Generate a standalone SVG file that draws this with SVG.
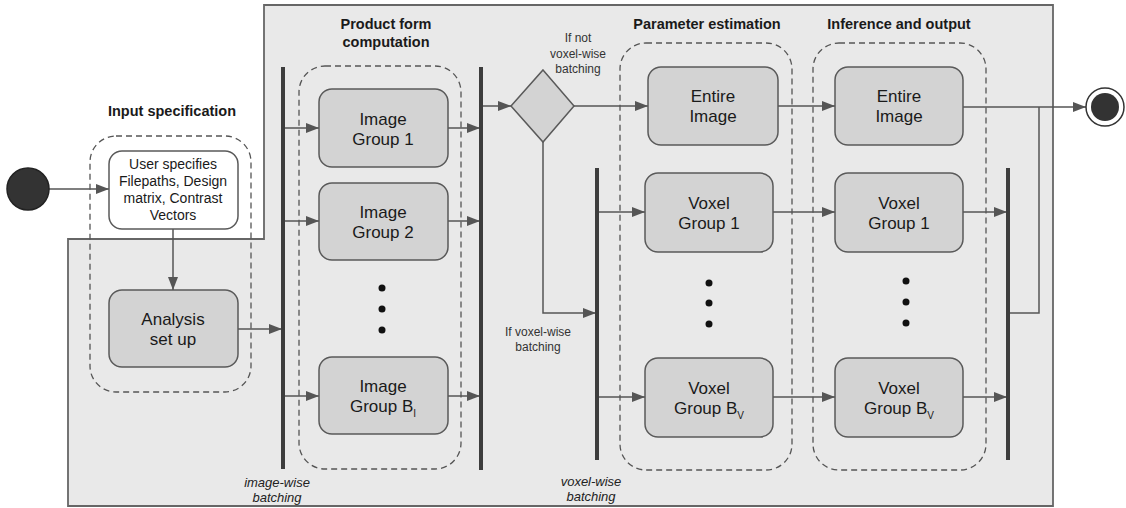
<svg xmlns="http://www.w3.org/2000/svg" width="1126" height="508" viewBox="0 0 1126 508">
<style>
text{font-family:"Liberation Sans",Arial,sans-serif;fill:#1a1a1a}
.t{font-size:14.5px;font-weight:bold;text-anchor:middle}
.b{font-size:17px;text-anchor:middle}
.u{font-size:14px;text-anchor:middle}
.s{font-size:12px;text-anchor:middle;fill:#333}
.i{font-size:13px;font-style:italic;text-anchor:middle;fill:#222}
.box{fill:#d3d3d3;stroke:#5a5a5a;stroke-width:1.5}
.dash{fill:none;stroke:#555;stroke-width:1.3;stroke-dasharray:6 4}
.bar{stroke:#3d3d3d;stroke-width:4}
.c{fill:none;stroke:#555;stroke-width:1.5}
.dot{fill:#111}
</style>
<defs>
<marker id="ah" markerUnits="userSpaceOnUse" markerWidth="14" markerHeight="12" refX="13" refY="5" orient="auto">
<path d="M0,0 L13,5 L0,10 Z" fill="#555"/>
</marker>
</defs>
<polygon id="panel" points="264,5 1053,5 1053,506 68,506 68,239 264,239" fill="#e9e9e9" stroke="#666" stroke-width="1.8"/>

<g id="containers">
<rect class="dash" x="90" y="136" width="161" height="256" rx="26"/>
<rect class="dash" x="299" y="66" width="162" height="403" rx="26"/>
<rect class="dash" x="620" y="43" width="172" height="427" rx="26"/>
<rect class="dash" x="813" y="43" width="173" height="427" rx="26"/>
</g>

<g id="titles">
<text class="t" x="172" y="116">Input specification</text>
<text class="t" x="386" y="29">Product form</text>
<text class="t" x="386" y="47">computation</text>
<text class="t" x="707" y="29">Parameter estimation</text>
<text class="t" x="899" y="29">Inference and output</text>
</g>

<g id="connectors">
<line class="c" x1="49" y1="189" x2="109" y2="189" marker-end="url(#ah)"/>
<line class="c" x1="173" y1="229" x2="173" y2="290" marker-end="url(#ah)"/>
<line class="c" x1="238" y1="329" x2="282" y2="329" marker-end="url(#ah)"/>
<line class="c" x1="283" y1="128" x2="319" y2="128" marker-end="url(#ah)"/>
<line class="c" x1="283" y1="221" x2="319" y2="221" marker-end="url(#ah)"/>
<line class="c" x1="283" y1="396" x2="319" y2="396" marker-end="url(#ah)"/>
<line class="c" x1="448" y1="128" x2="480" y2="128" marker-end="url(#ah)"/>
<line class="c" x1="448" y1="221" x2="480" y2="221" marker-end="url(#ah)"/>
<line class="c" x1="448" y1="396" x2="480" y2="396" marker-end="url(#ah)"/>
<line class="c" x1="481" y1="106" x2="511" y2="106" marker-end="url(#ah)"/>
<line class="c" x1="574" y1="106" x2="648" y2="106" marker-end="url(#ah)"/>
<polyline class="c" points="543,142 543,313 596,313" marker-end="url(#ah)"/>
<line class="c" x1="597" y1="212" x2="645" y2="212" marker-end="url(#ah)"/>
<line class="c" x1="597" y1="397" x2="645" y2="397" marker-end="url(#ah)"/>
<line class="c" x1="778" y1="106" x2="835" y2="106" marker-end="url(#ah)"/>
<line class="c" x1="773" y1="212" x2="835" y2="212" marker-end="url(#ah)"/>
<line class="c" x1="773" y1="397" x2="835" y2="397" marker-end="url(#ah)"/>
<line class="c" x1="963" y1="107" x2="1086" y2="107" marker-end="url(#ah)"/>
<line class="c" x1="963" y1="212" x2="1007" y2="212" marker-end="url(#ah)"/>
<line class="c" x1="963" y1="397" x2="1007" y2="397" marker-end="url(#ah)"/>
<polyline class="c" points="1008,313 1039,313 1039,107"/>
</g>

<g id="bars">
<line class="bar" x1="283" y1="67" x2="283" y2="469"/>
<line class="bar" x1="481" y1="67" x2="481" y2="470"/>
<line class="bar" x1="597" y1="168" x2="597" y2="460"/>
<line class="bar" x1="1008" y1="168" x2="1008" y2="460"/>
</g>

<g id="start"><circle cx="28" cy="189" r="21" fill="#333" stroke="#222" stroke-width="1.5"/></g>

<g id="user-specifies">
<rect x="109" y="151" width="129" height="78" rx="13" fill="#fff" stroke="#5a5a5a" stroke-width="1.5"/>
<text class="u" x="173" y="169">User specifies</text>
<text class="u" x="173" y="186">Filepaths, Design</text>
<text class="u" x="173" y="203">matrix, Contrast</text>
<text class="u" x="173" y="220">Vectors</text>
</g>

<g id="analysis">
<rect class="box" x="109" y="290" width="129" height="77" rx="13"/>
<text class="b" x="173" y="325">Analysis</text>
<text class="b" x="173" y="345">set up</text>
</g>

<g id="image-group-1">
<rect class="box" x="319" y="89" width="129" height="78" rx="13"/>
<text class="b" x="383" y="125">Image</text>
<text class="b" x="383" y="145">Group 1</text>
</g>
<g id="image-group-2">
<rect class="box" x="319" y="183" width="129" height="77" rx="13"/>
<text class="b" x="383" y="218">Image</text>
<text class="b" x="383" y="238">Group 2</text>
</g>
<g id="image-dots">
<circle class="dot" cx="382" cy="288" r="3.5"/>
<circle class="dot" cx="382" cy="309" r="3.5"/>
<circle class="dot" cx="382" cy="330" r="3.5"/>
</g>
<g id="image-group-b">
<rect class="box" x="319" y="357" width="129" height="77" rx="13"/>
<text class="b" x="383" y="392">Image</text>
<text class="b" x="383" y="412">Group B<tspan font-size="10" dy="5">I</tspan></text>
</g>

<g id="decision">
<polygon points="543,70 574,106 543,142 511,106" fill="#d3d3d3" stroke="#5a5a5a" stroke-width="1.5"/>
</g>
<g id="labels">
<text class="s" x="578" y="42">If not</text>
<text class="s" x="578" y="58">voxel-wise</text>
<text class="s" x="578" y="73">batching</text>
<text class="s" x="538" y="336">If voxel-wise</text>
<text class="s" x="538" y="351">batching</text>
<text class="i" x="277" y="487">image-wise</text>
<text class="i" x="277" y="502">batching</text>
<text class="i" x="591" y="486">voxel-wise</text>
<text class="i" x="591" y="501">batching</text>
</g>

<g id="pe-entire">
<rect class="box" x="648" y="67" width="130" height="78" rx="13"/>
<text class="b" x="713" y="102">Entire</text>
<text class="b" x="713" y="122">Image</text>
</g>
<g id="pe-voxel-1">
<rect class="box" x="645" y="173" width="128" height="79" rx="13"/>
<text class="b" x="709" y="209">Voxel</text>
<text class="b" x="709" y="229">Group 1</text>
</g>
<g id="pe-dots">
<circle class="dot" cx="709" cy="283" r="3.5"/>
<circle class="dot" cx="709" cy="303" r="3.5"/>
<circle class="dot" cx="709" cy="324" r="3.5"/>
</g>
<g id="pe-voxel-b">
<rect class="box" x="645" y="358" width="128" height="79" rx="13"/>
<text class="b" x="709" y="394">Voxel</text>
<text class="b" x="709" y="414">Group B<tspan font-size="10" dy="5">V</tspan></text>
</g>

<g id="io-entire">
<rect class="box" x="835" y="67" width="128" height="78" rx="13"/>
<text class="b" x="899" y="102">Entire</text>
<text class="b" x="899" y="122">Image</text>
</g>
<g id="io-voxel-1">
<rect class="box" x="835" y="173" width="128" height="79" rx="13"/>
<text class="b" x="899" y="209">Voxel</text>
<text class="b" x="899" y="229">Group 1</text>
</g>
<g id="io-dots">
<circle class="dot" cx="906" cy="281" r="3.5"/>
<circle class="dot" cx="906" cy="302" r="3.5"/>
<circle class="dot" cx="906" cy="323" r="3.5"/>
</g>
<g id="io-voxel-b">
<rect class="box" x="835" y="358" width="128" height="79" rx="13"/>
<text class="b" x="899" y="394">Voxel</text>
<text class="b" x="899" y="414">Group B<tspan font-size="10" dy="5">V</tspan></text>
</g>

<g id="end">
<circle cx="1105" cy="107" r="19" fill="#fff" stroke="#333" stroke-width="1.5"/>
<circle cx="1105" cy="107" r="14" fill="#333"/>
</g>
</svg>
